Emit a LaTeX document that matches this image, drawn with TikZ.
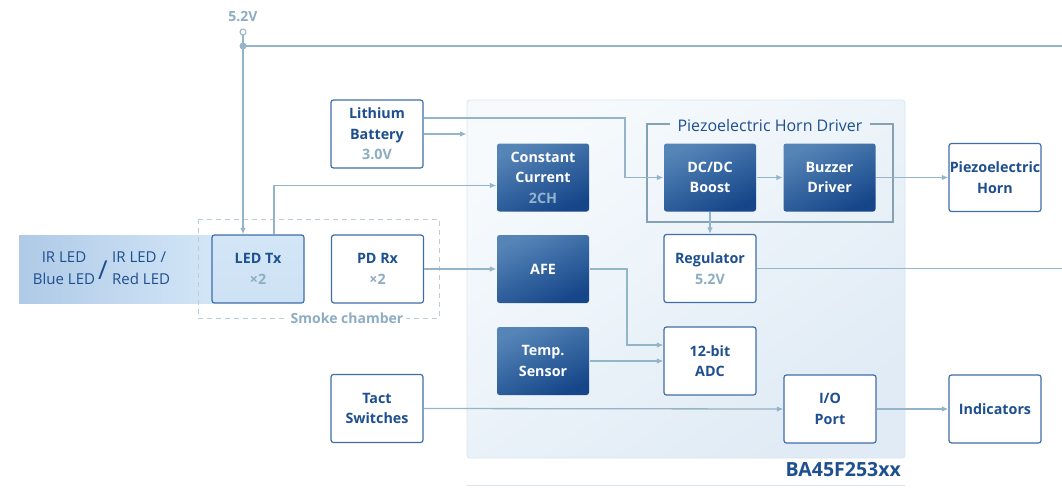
\documentclass[tikz,border=0pt]{standalone}
\usepackage{fontspec}
\setmainfont{Open Sans}
\usetikzlibrary{arrows.meta,calc}
\definecolor{linec}{HTML}{94B4C9}
\definecolor{boxc}{HTML}{3F6DA8}
\definecolor{txtc}{HTML}{1E4F8F}
\definecolor{grayc}{HTML}{8DADC2}
\definecolor{darkA}{HTML}{5585B7}
\definecolor{darkB}{HTML}{164689}
\definecolor{chipA}{HTML}{F6FAFD}
\definecolor{chipB}{HTML}{E0EBF5}
\definecolor{chipE}{HTML}{D8E5F0}
\definecolor{ledA}{HTML}{AFCAE7}
\definecolor{ledB}{HTML}{D3E6F7}
\definecolor{dashc}{HTML}{B9CDDA}
\definecolor{subd}{HTML}{93B3CF}
\begin{document}
\begin{tikzpicture}[x=1pt,y=-1pt,
  blk/.style={draw=boxc, line width=1.2pt, rounded corners=2.5pt, minimum width=92pt, minimum height=68pt, align=center, font=\fontsize{14.3}{20.5}\selectfont\bfseries, text=txtc, inner sep=0pt},
  wblk/.style={blk, fill=white},
  dblk/.style={blk, draw=none, top color=darkA, bottom color=darkB, shading angle=25, text=white},
  lblk/.style={blk, top color=ledB, bottom color=ledB!85!ledA},
  conn/.style={draw=linec, line width=1.3pt},
  arr/.style={conn, -{Latex[length=6.5pt,width=5.5pt]}},
  grp/.style={draw=linec!90!black, line width=1.1pt},
  bandtxt/.style={font=\fontsize{15}{22}\selectfont, text=txtc, inner sep=0pt},
]
\useasboundingbox (0,0) rectangle (1062,487);

% chip background
\node[draw=chipE, line width=0.8pt, rounded corners=3pt, top color=chipA, bottom color=chipB, shading angle=35, minimum width=438pt, minimum height=358pt, inner sep=0pt] (chip) at (686,279) {};
\draw[chipE, line width=1pt] (467,485) -- (905,485);
\node[anchor=east, font=\fontsize{19.5}{22}\selectfont\bfseries, text=txtc, inner sep=0pt] (chipname) at (901,470) {BA45F253xx};

% LED band
\shade[left color=ledA, right color=ledB] (19,235) rectangle (214,303);
\node[bandtxt, align=center] (bt1) at (64,268) {IR LED\\Blue LED};
\node[bandtxt, font=\fontsize{26}{26}\selectfont] (slash) at (103,270) {/};
\node[bandtxt, align=left, anchor=west] (bt2) at (112,268) {IR LED /\\Red LED};

% smoke chamber
\draw[dashc, line width=1pt, dashed, dash pattern=on 5pt off 4pt] (198,219) rectangle (439,318);
\node[fill=white, inner sep=3pt, font=\fontsize{14}{16}\selectfont\bfseries, text=grayc] (smoke) at (347,318) {Smoke chamber};

% blocks
\node[wblk] (bat) at (377,134) {Lithium\\Battery\\{\color{grayc}3.0V}};
\node[dblk] (cc) at (543,177.5) {Constant\\Current\\{\color{subd}2CH}};
\node[dblk] (dcdc) at (710,177.5) {DC/DC\\Boost};
\node[dblk] (buzz) at (829.5,177.5) {Buzzer\\Driver};
\node[wblk] (horn) at (995,177.5) {Piezoelectric\\Horn};
\node[wblk] (reg) at (710,268.5) {Regulator\\{\color{grayc}5.2V}};
\node[dblk] (afe) at (543,269) {AFE};
\node[wblk] (pd) at (377.5,269) {PD Rx\\{\color{grayc}×2}};
\node[lblk] (led) at (258,269) {LED Tx\\{\color{grayc}×2}};
\node[dblk] (temp) at (543,361) {Temp.\\Sensor};
\node[wblk] (adc) at (710,361) {12-bit\\ADC};
\node[wblk] (tact) at (377,408.5) {Tact\\Switches};
\node[wblk] (io) at (830,409) {I/O\\Port};
\node[wblk] (ind) at (995,409) {Indicators};

% piezo horn driver group
\node[inner sep=0pt, font=\fontsize{16}{18}\selectfont, text=txtc] (phd) at (770,125) {Piezoelectric Horn Driver};
\draw[grp] ([xshift=-7pt]phd.west |- 0,124) -- (647,124) -- (647,222) -- (893,222) -- (893,124) -- ([xshift=7pt]phd.east |- 0,124);

% supply
\node[font=\fontsize{14}{16}\selectfont\bfseries, text=grayc, inner sep=0pt] (vlab) at (243,17) {5.2V};
\node[circle, draw=linec, fill=white, line width=1pt, inner sep=0pt, minimum size=6pt] (vin) at (243,32) {};
\coordinate (topR) at (1062,46);
\coordinate (j) at (243,46);
\coordinate (b1) at (625,177.5);
\coordinate (b2) at (627,345);

\draw[arr] (vin) -- (vin |- led.north);
\draw[conn] (j) -- (topR);
\fill[linec] (j) circle (3.5pt);

% connectors
\draw[arr] ([yshift=16pt]bat.east) -| (b1) -- (dcdc.west);
\draw[arr] (bat.east) -- (bat.east -| chip.west);
\draw[arr] ([xshift=16pt]led.north) |- ([yshift=-8pt]cc.west);
\draw[arr] (pd.east) -- (afe.west);
\draw[arr] (afe.east) -| (b2) -- ([yshift=16pt]adc.west);
\draw[arr] (temp.east) -- (adc.west);
\draw[arr] (dcdc.east) -- (buzz.west);
\draw[arr] (buzz.east) -- (horn.west);
\draw[arr] (dcdc.south) -- (reg.north);
\draw[conn] (reg.east) -- (reg.east -| topR);
\draw[arr] (tact.east) -- (io.west);
\draw[arr] (io.east) -- (ind.west);
\end{tikzpicture}
\end{document}
